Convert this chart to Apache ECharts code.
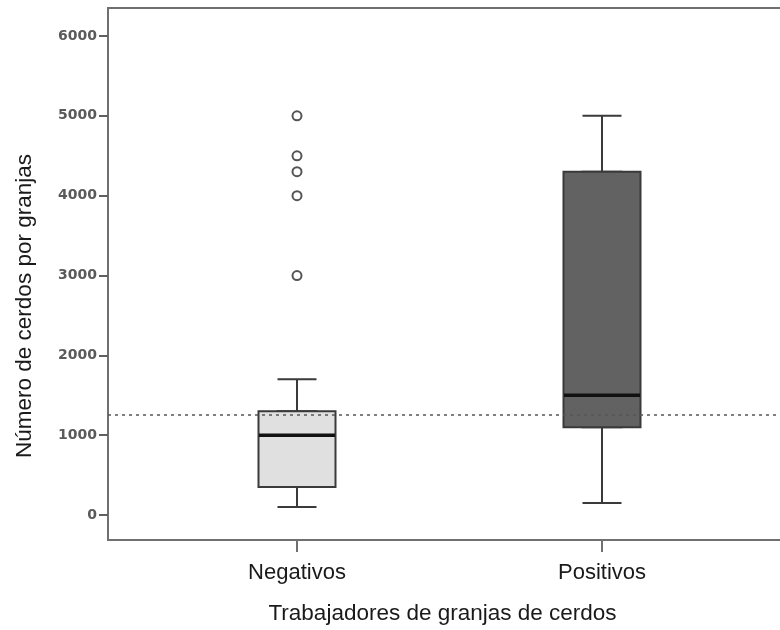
<!DOCTYPE html>
<html>
<head>
<meta charset="utf-8">
<script src="https://cdn.jsdelivr.net/npm/echarts@6/dist/echarts.min.js"></script>
<style>html,body{margin:0;padding:0;background:#fff;}#c{width:780px;height:630px;}</style>
</head>
<body>
<div id="c"></div>
<script>
// Data
const categories = ['Negativos', 'Positivos'];
const categoryPos = [1, 2];
// [min, Q1, median, Q3, max]
const boxNegativos = [100, 350, 1000, 1300, 1700];
const boxPositivos = [150, 1100, 1500, 4300, 5000];
const outliersNegativos = [3000, 4000, 4300, 4500, 5000];
const referenceValue = 1250;
const yTicks = [0, 1000, 2000, 3000, 4000, 5000, 6000];

const boxFill = ['#e0e0e0', '#626262'];
const boxes = [boxNegativos, boxPositivos];

const xMin = 0.3803, xMax = 2.6197;

const chart = echarts.init(document.getElementById('c'), null, {renderer: 'canvas'});
const option = {
  animation: false,
  backgroundColor: '#fff',
  grid: {left: 108, top: 8, width: 683, height: 532, outerBoundsMode: 'none', containLabel: false,
    show: true, borderColor: '#707070', borderWidth: 2, backgroundColor: '#fff'},
  xAxis: [{
    type: 'value', min: xMin, max: xMax,
    name: 'Trabajadores de granjas de cerdos', nameLocation: 'middle', nameGap: 62,
    nameTextStyle: {fontFamily: 'Liberation Sans', fontSize: 22.5, color: '#1a1a1a', padding: [0, 14, 0, 0]},
    axisLine: {show: true, onZero: false, lineStyle: {color: '#707070', width: 2}},
    axisTick: {show: true, length: 12, customValues: categoryPos, lineStyle: {color: '#707070', width: 2}},
    axisLabel: {show: true, customValues: categoryPos, margin: 22, fontFamily: 'Liberation Sans', fontSize: 22, color: '#1a1a1a',
      formatter: v => { const i = categoryPos.indexOf(Math.round(v)); return i >= 0 ? categories[i] : ''; }},
    splitLine: {show: false}
  }, {
    type: 'value', min: xMin, max: xMax, show: false, position: 'bottom',
    splitLine: {show: false}
  }],
  yAxis: {
    type: 'value', min: -313, max: 6351,
    name: 'Número de cerdos por granjas', nameLocation: 'middle', nameGap: 72,
    nameTextStyle: {fontFamily: 'Liberation Sans', fontSize: 22.5, color: '#1a1a1a', padding: [0, 64, 0, 0]},
    axisLine: {show: true, lineStyle: {color: '#707070', width: 2}},
    axisTick: {show: true, length: 9, customValues: yTicks, lineStyle: {color: '#606060', width: 2}},
    axisLabel: {show: true, customValues: yTicks, margin: 11, fontFamily: 'DejaVu Sans', fontWeight: 'bold', fontSize: 14, color: '#5a5a5a',
      formatter: v => String(v)},
    splitLine: {show: false}
  },
  series: [
    {
      // whiskers with half-width caps
      type: 'boxplot',
      layout: 'horizontal',
      xAxisIndex: 1,
      boxWidth: [39, 39],
      data: boxes.map((b, i) => ({
        value: [categoryPos[i]].concat(b),
        itemStyle: {color: boxFill[i], borderColor: '#3a3a3a', borderWidth: 2}
      })),
      z: 2
    },
    {
      // boxes (Q1..Q3) without whiskers
      type: 'boxplot',
      layout: 'horizontal',
      xAxisIndex: 0,
      boxWidth: [77, 77],
      data: boxes.map((b, i) => ({
        value: [categoryPos[i], b[1], b[1], b[2], b[3], b[3]],
        itemStyle: {color: boxFill[i], borderColor: '#3a3a3a', borderWidth: 2}
      })),
      z: 3
    },
    {
      type: 'scatter',
      xAxisIndex: 0,
      symbol: 'rect',
      symbolSize: [76, 3.5],
      itemStyle: {color: '#111', opacity: 1},
      data: boxes.map((b, i) => [categoryPos[i], b[2]]),
      markLine: {
        silent: true, symbol: 'none', label: {show: false},
        lineStyle: {color: '#555', width: 1.6, type: [3, 4]},
        data: [{yAxis: referenceValue}]
      },
      z: 4
    },
    {
      type: 'scatter',
      xAxisIndex: 0,
      symbol: 'circle',
      symbolSize: 9,
      itemStyle: {color: '#fff', borderColor: '#555', borderWidth: 2, opacity: 1},
      data: outliersNegativos.map(v => [categoryPos[0], v]),
      z: 4
    }
  ]
};
chart.setOption(option);
</script>
</body>
</html>
